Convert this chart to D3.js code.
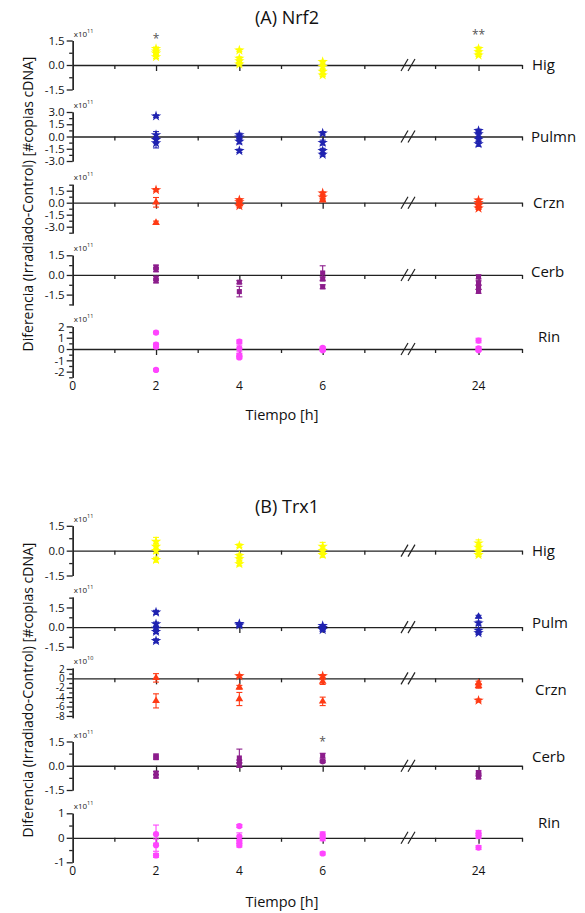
<!DOCTYPE html>
<html>
<head>
<meta charset="utf-8">
<script src="https://cdn.jsdelivr.net/npm/d3@7"></script>
<style>
  body { margin: 0; background: #fff; }
  svg { display: block; font-family: "Open Sans", sans-serif; }
  .axis path, .axis line { stroke: #222; stroke-width: 1.3px; }
  .axis text { font-size: 11.5px; fill: #111; font-family: "Open Sans", sans-serif; }
</style>
</head>
<body>
<svg id="chart"></svg>
<script>
// time points and x ticks
var xTicksMajor = [0, 2, 4, 6, 24];
var xTicksMinor = [1, 3, 5, 7, 23, 25];
var xTickLabels = ["0", "2", "4", "6", "24"];

// organs (sub panels), top to bottom
var nrf2Organs = ["Hig", "Pulmn", "Crzn", "Cerb", "Rin"];
var trx1Organs = ["Hig", "Pulm", "Crzn", "Cerb", "Rin"];

// power of ten of each sub panel
var nrf2Exp = [11, 11, 11, 11, 11];
var trx1Exp = [11, 11, 10, 11, 11];

// y domains and tick values
var nrf2Domains = [[-1.5, 1.5], [-3, 3], [-3.8, 2.3], [-2.3, 1.5], [-2.5, 2]];
var nrf2Ticks = [[-1.5, 0, 1.5], [-3, -1.5, 0, 1.5, 3], [-3, -1.5, 0, 1.5], [-1.5, 0, 1.5], [-2, -1, 0, 1, 2]];
var nrf2Minor = [0.75, 0.75, 0.75, 0.75, 0.5];
var trx1Domains = [[-1.5, 1.5], [-1.6, 2.3], [-8.4, 2.2], [-1.5, 1.5], [-1, 1]];
var trx1Ticks = [[-1.5, 0, 1.5], [-1.5, 0, 1.5], [-8, -6, -4, -2, 0, 2], [-1.5, 0, 1.5], [-1, 0, 1]];
var trx1Minor = [0.75, 0.75, 1, 0.75, 0.5];

// points: [time, mean, error, series]
var nrf2Hig = [
  [2, 1.0, 0.1, 0], [2, 0.85, 0.12, 0], [2, 0.72, 0.1, 0], [2, 0.5, 0.1, 0],
  [4, 0.9, 0.08, 0], [4, 0.4, 0.1, 0], [4, 0.25, 0.1, 0], [4, 0.05, 0.1, 0],
  [6, 0.2, 0.08, 0], [6, -0.1, 0.1, 0], [6, -0.4, 0.1, 0], [6, -0.62, 0.08, 0],
  [24, 1.0, 0.1, 0], [24, 0.8, 0.1, 0], [24, 0.6, 0.08, 0]
];
var nrf2Pulmn = [
  [2, 2.5, 0.15, 0], [2, 0.2, 0.4, 0], [2, -0.4, 0.3, 0], [2, -0.8, 0.6, 0],
  [4, 0.2, 0.2, 0], [4, -0.1, 0.2, 0], [4, -0.6, 0.3, 0], [4, -1.75, 0.2, 0],
  [6, 0.4, 0.2, 0], [6, -0.75, 0.3, 0], [6, -1.75, 0.3, 0], [6, -2.2, 0.2, 0],
  [24, 0.7, 0.2, 0], [24, 0.3, 0.3, 0], [24, -0.35, 0.2, 0], [24, -0.9, 0.3, 0]
];
var nrf2Crzn = [
  [2, 1.6, 0.15, 0], [2, 0.05, 0.6, 1], [2, -2.5, 0.2, 1],
  [4, 0.35, 0.15, 0], [4, 0.1, 0.15, 0], [4, -0.15, 0.15, 1], [4, -0.4, 0.15, 0],
  [6, 1.2, 0.15, 0], [6, 0.7, 0.15, 0], [6, 0.3, 0.15, 1],
  [24, 0.3, 0.15, 0], [24, 0.0, 0.15, 0], [24, -0.3, 0.15, 0], [24, -0.7, 0.15, 0]
];
var nrf2Cerb = [
  [2, 0.6, 0.15, 0], [2, 0.4, 0.15, 0], [2, -0.25, 0.15, 0], [2, -0.45, 0.15, 0],
  [4, -0.55, 0.12, 0], [4, -1.27, 0.4, 0],
  [6, 0.15, 0.55, 0], [6, -0.3, 0.15, 0], [6, -0.9, 0.15, 0],
  [24, -0.15, 0.15, 0], [24, -0.6, 0.15, 0], [24, -0.95, 0.15, 0], [24, -1.25, 0.15, 0]
];
var nrf2Rin = [
  [2, 1.45, 0.12, 0], [2, 0.4, 0.12, 0], [2, 0.2, 0.12, 0], [2, -1.85, 0.1, 0],
  [4, 0.65, 0.15, 0], [4, 0.05, 0.3, 0], [4, -0.55, 0.15, 0], [4, -0.75, 0.12, 0],
  [6, 0.1, 0.1, 0], [6, 0.0, 0.1, 0], [6, -0.1, 0.1, 0],
  [24, 0.75, 0.2, 0], [24, 0.05, 0.15, 0], [24, -0.1, 0.1, 0]
];

var trx1Hig = [
  [2, 0.55, 0.25, 0], [2, 0.25, 0.2, 0], [2, 0.0, 0.15, 0], [2, -0.55, 0.15, 0],
  [4, 0.3, 0.1, 0], [4, -0.3, 0.1, 0], [4, -0.5, 0.1, 0], [4, -0.8, 0.12, 0],
  [6, 0.25, 0.25, 0], [6, 0.0, 0.15, 0], [6, -0.25, 0.15, 0],
  [24, 0.45, 0.2, 0], [24, 0.2, 0.15, 0], [24, -0.05, 0.15, 0], [24, -0.25, 0.1, 0]
];
var trx1Pulm = [
  [2, 1.13, 0.15, 0], [2, 0.23, 0.15, 0], [2, -0.1, 0.15, 0], [2, -0.35, 0.15, 0], [2, -1.05, 0.15, 0],
  [4, 0.25, 0.1, 0], [4, 0.15, 0.1, 0],
  [6, 0.1, 0.1, 0], [6, -0.05, 0.1, 0], [6, -0.2, 0.1, 0],
  [24, 0.8, 0.1, 1], [24, 0.3, 0.15, 0], [24, -0.25, 0.1, 0], [24, -0.45, 0.1, 0]
];
var trx1Crzn = [
  [2, 0.1, 0.9, 1], [2, -4.8, 1.5, 1],
  [4, 0.5, 0.3, 0], [4, -1.9, 0.4, 1], [4, -4.4, 1.4, 1],
  [6, 0.5, 0.3, 0], [6, -0.7, 0.6, 1], [6, -4.9, 0.9, 1],
  [24, -1.0, 0.4, 1], [24, -1.6, 0.5, 1], [24, -4.7, 0.3, 0]
];
var trx1Cerb = [
  [2, 0.6, 0.12, 0], [2, 0.5, 0.1, 0], [2, -0.45, 0.1, 0], [2, -0.65, 0.1, 0],
  [4, 0.48, 0.55, 0], [4, 0.25, 0.1, 0], [4, 0.05, 0.15, 0],
  [6, 0.62, 0.15, 0], [6, 0.27, 0.08, 1],
  [24, -0.42, 0.1, 0], [24, -0.55, 0.1, 0], [24, -0.7, 0.1, 0]
];
var trx1Rin = [
  [2, 0.15, 0.37, 0], [2, -0.3, 0.25, 0], [2, -0.72, 0.08, 0],
  [4, 0.48, 0.06, 0], [4, 0.05, 0.15, 0], [4, -0.16, 0.08, 0], [4, -0.3, 0.08, 0],
  [6, 0.14, 0.1, 0], [6, -0.02, 0.1, 0], [6, -0.64, 0.06, 0],
  [24, 0.2, 0.1, 0], [24, 0.07, 0.1, 0], [24, -0.4, 0.08, 0]
];

// significance marks: [organ index, time, y value, text]
var nrf2Stars = [[0, 2, 1.73, "*"], [0, 24, 1.94, "**"]];
var trx1Stars = [[3, 6, 1.6, "*"]];

// ---- drawing ----
var W = 585, H = 913;
var svg = d3.select("#chart").attr("width", W).attr("height", H);

var x0 = 72.7, xEnd = 522;
var xscale = d3.scaleLinear()
  .domain([0, 8, 22.4, 25])
  .range([x0, 406, 409, xEnd]);

var colors = ["#ffff00", "#1f22b0", "#ff3a14", "#8c1d8c", "#ff45ff"];
var symbolTypes = [
  [d3.symbolStar, d3.symbolStar],
  [d3.symbolStar, d3.symbolTriangle],
  [d3.symbolStar, d3.symbolTriangle],
  [d3.symbolSquare, d3.symbolCircle],
  [d3.symbolCircle, d3.symbolCircle]
];

var panels = [
  {
    title: "(A) Nrf2", titleY: 24, organs: nrf2Organs, exps: nrf2Exp,
    domains: nrf2Domains, ticks: nrf2Ticks, minor: nrf2Minor,
    data: [nrf2Hig, nrf2Pulmn, nrf2Crzn, nrf2Cerb, nrf2Rin], stars: nrf2Stars,
    ranges: [[40.5, 89.5], [112, 161], [184.3, 233.1], [255.3, 305.1], [326.4, 377.3]],
    labelDy: [5, 5, 5, 2, -7], labelX: [532, 531, 533, 531, 538],
    decimals: [1, 1, 1, 1, 0], tickFont: [11.5, 11.5, 11.5, 11.5, 11.5],
    tickLabelY: 390, xTitleY: 420, yTitleC: 204
  },
  {
    title: "(B) Trx1", titleY: 513, organs: trx1Organs, exps: trx1Exp,
    domains: trx1Domains, ticks: trx1Ticks, minor: trx1Minor,
    data: [trx1Hig, trx1Pulm, trx1Crzn, trx1Cerb, trx1Rin], stars: trx1Stars,
    ranges: [[525.8, 575.5], [597, 648], [668, 717.8], [741.5, 790], [813.3, 862.3]],
    labelDy: [5, 1, 17, -4, -10], labelX: [532, 532, 535, 532, 538],
    decimals: [1, 1, 0, 1, 0], tickFont: [11.5, 11.5, 10, 11.5, 11.5],
    tickLabelY: 875, xTitleY: 907, yTitleC: 690
  }
];

panels.forEach(function(p) {
  var g = svg.append("g");

  g.append("text")
    .attr("x", 287).attr("y", p.titleY)
    .attr("text-anchor", "middle")
    .style("font-size", "18px").style("fill", "#111")
    .text(p.title);

  p.organs.forEach(function(organ, i) {
    var r = p.ranges[i];
    var yscale = d3.scaleLinear().domain(p.domains[i]).range([r[1], r[0]]);
    var sub = g.append("g");
    var dec = p.decimals[i];

    // minor y ticks
    var dom = p.domains[i];
    var minorVals = d3.range(Math.ceil(dom[0] / p.minor[i]) * p.minor[i], dom[1] + 1e-6, p.minor[i])
      .filter(function(v) { return p.ticks[i].every(function(t) { return Math.abs(t - v) > 1e-6; }); });
    sub.append("g")
      .attr("class", "axis")
      .attr("transform", "translate(" + x0 + ",0)")
      .call(d3.axisLeft(yscale).tickValues(minorVals).tickSize(3.5).tickSizeOuter(0).tickFormat(""));

    // major y ticks
    sub.append("g")
      .attr("class", "axis")
      .attr("transform", "translate(" + x0 + ",0)")
      .call(d3.axisLeft(yscale).tickValues(p.ticks[i]).tickSize(6).tickSizeOuter(0)
        .tickFormat(function(d) { return d3.format("." + dec + "f")(d).replace("−", "-"); }))
      .selectAll("text").attr("x", -8).style("font-size", p.tickFont[i] + "px");

    // exponent label
    var ex = sub.append("text")
      .attr("x", x0 + 1).attr("y", r[0] - 4)
      .style("font-size", "8px").style("fill", "#222")
      .text("x10");
    ex.append("tspan").attr("dy", -4).style("font-size", "5.5px").text(p.exps[i]);

    // zero line with x ticks
    var y0 = yscale(0);
    sub.append("g")
      .attr("class", "axis")
      .attr("transform", "translate(0," + y0 + ")")
      .call(d3.axisBottom(xscale).tickValues(xTicksMinor).tickSize(4).tickSizeOuter(0).tickFormat(""));
    sub.append("g")
      .attr("class", "axis")
      .attr("transform", "translate(0," + y0 + ")")
      .call(d3.axisBottom(xscale).tickValues(xTicksMajor.slice(1)).tickSize(6).tickSizeOuter(0).tickFormat(""))
      .select(".domain").remove();

    // axis break
    [404.5, 411.5].forEach(function(cx) {
      sub.append("line")
        .attr("x1", cx - 3.5).attr("y1", y0 + 6)
        .attr("x2", cx + 3.5).attr("y2", y0 - 6)
        .style("stroke", "#222").style("stroke-width", 1.2);
    });

    // error bars and markers
    var pts = p.data[i];
    var eb = sub.selectAll(".eb").data(pts).enter().append("g")
      .style("stroke", colors[i]).style("stroke-width", 1.1);
    eb.append("line")
      .attr("x1", function(d) { return xscale(d[0]); })
      .attr("x2", function(d) { return xscale(d[0]); })
      .attr("y1", function(d) { return yscale(d[1] - d[2]); })
      .attr("y2", function(d) { return yscale(d[1] + d[2]); });
    [-1, 1].forEach(function(s) {
      eb.append("line")
        .attr("x1", function(d) { return xscale(d[0]) - 3; })
        .attr("x2", function(d) { return xscale(d[0]) + 3; })
        .attr("y1", function(d) { return yscale(d[1] + s * d[2]); })
        .attr("y2", function(d) { return yscale(d[1] + s * d[2]); });
    });

    sub.selectAll(".mk").data(pts).enter().append("path")
      .attr("transform", function(d) { return "translate(" + xscale(d[0]) + "," + yscale(d[1]) + ")"; })
      .attr("d", function(d) {
        var t = symbolTypes[i][d[3]];
        return d3.symbol().type(t).size(t === d3.symbolStar ? 34 : t === d3.symbolCircle ? 30 : 26)();
      })
      .style("fill", colors[i]);

    // significance marks
    p.stars.filter(function(s) { return s[0] === i; }).forEach(function(s) {
      sub.append("text")
        .attr("x", xscale(s[1])).attr("y", yscale(s[2]) + 6)
        .attr("text-anchor", "middle")
        .style("font-size", "12px").style("fill", "#555")
        .text(s[3]);
    });

    // organ label
    sub.append("text")
      .attr("x", p.labelX[i]).attr("y", y0 + p.labelDy[i])
      .style("font-size", "15px").style("fill", "#111")
      .text(organ);
  });

  // x tick labels
  g.selectAll(".xl").data(xTicksMajor).enter().append("text")
    .attr("x", function(d) { return xscale(d); })
    .attr("y", p.tickLabelY)
    .attr("text-anchor", "middle")
    .style("font-size", "12px").style("fill", "#111")
    .text(function(d, k) { return xTickLabels[k]; });

  g.append("text")
    .attr("x", 282).attr("y", p.xTitleY)
    .attr("text-anchor", "middle")
    .style("font-size", "14.5px").style("fill", "#111")
    .text("Tiempo [h]");

  g.append("text")
    .attr("transform", "translate(33," + p.yTitleC + ") rotate(-90)")
    .attr("text-anchor", "middle")
    .style("font-size", "14px").style("fill", "#111")
    .text("Diferencia (Irradiado-Control) [#copias cDNA]");
});
</script>
</body>
</html>
